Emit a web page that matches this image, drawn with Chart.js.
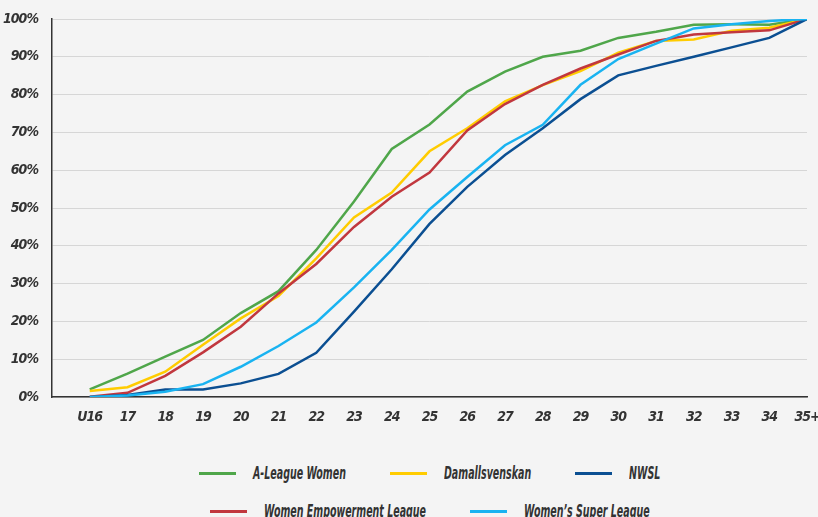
<!DOCTYPE html>
<html>
<head>
<meta charset="utf-8">
<script src="https://cdn.jsdelivr.net/npm/chart.js@4.4.1/dist/chart.umd.min.js"></script>
<style>
  html, body { margin: 0; padding: 0; background: #f4f4f4; }
  #wrap { width: 818px; height: 517px; position: relative; overflow: hidden; }
  #chart-box { width: 818px; height: 440px; position: relative; }
  .legend-row { position: absolute; left: 52px; width: 756px; display: flex; justify-content: center; align-items: center;
    font-family: "DejaVu Sans", sans-serif; font-stretch: condensed;
    font-weight: bold; font-style: italic; font-size: 17px; color: #333; }
  .legend-item { display: flex; align-items: center; margin: 0 22px; }
  .legend-item span.sw { display: inline-block; width: 37px; height: 3px; margin-right: 17px; }
  .legend-item span.txt { display: inline-block; transform: scaleX(0.62); transform-origin: 0 50%; white-space: nowrap; }
</style>
</head>
<body>
<div id="wrap">
  <div id="chart-box"><canvas id="age-curve"></canvas></div>
  <div class="legend-row" id="legend-1" style="top:463px"></div>
  <div class="legend-row" id="legend-2" style="top:501px"></div>
</div>
<script>
// cumulative share of minutes by player age, per league
var ages = ['U16', '17', '18', '19', '20', '21', '22', '23', '24', '25', '26', '27', '28', '29', '30', '31', '32', '33', '34', '35+'];
var yTicks = [0, 10, 20, 30, 40, 50, 60, 70, 80, 90, 100];

var aLeagueWomen   = [2.0, 6.2, 10.7, 15.1, 22.2, 28.0, 38.9, 51.7, 65.6, 72.1, 80.8, 86.1, 90.0, 91.6, 95.0, 96.6, 98.5, 98.6, 98.5, 100];
var damallsvenskan = [1.6, 2.6, 6.7, 13.8, 20.8, 26.7, 36.7, 47.5, 54.1, 65.0, 71.1, 78.2, 82.5, 86.2, 91.1, 94.2, 94.6, 96.9, 97.7, 100];
var nwsl           = [0.0, 0.5, 2.0, 2.0, 3.6, 6.1, 11.7, 22.6, 33.8, 45.8, 55.6, 64.0, 71.1, 78.8, 85.1, 87.6, 90.0, 92.5, 95.0, 100];
var wel            = [0.1, 1.1, 5.6, 11.8, 18.6, 27.4, 35.2, 45.0, 53.0, 59.4, 70.5, 77.5, 82.6, 86.9, 90.6, 94.2, 95.9, 96.5, 97.0, 100];
var wsl            = [0.0, 0.4, 1.4, 3.4, 8.0, 13.5, 19.7, 29.0, 38.9, 49.6, 58.2, 66.6, 72.0, 82.6, 89.4, 93.5, 97.5, 98.6, 99.5, 100];

var leagueNames  = ['A-League Women', 'Damallsvenskan', 'NWSL', 'Women Empowerment League', "Women\u2019s Super League"];
var leagueSeries = [aLeagueWomen, damallsvenskan, nwsl, wel, wsl];
var leagueColors = ['#4fa64a', '#ffcc00', '#0b4f92', '#c1373e', '#19b3f1'];

var FONT = '"DejaVu Sans", sans-serif';
var tickFont = { family: FONT, size: 14, weight: 'bold', style: 'italic' };
var LEGEND_SQUEEZE = 0.62;

// narrow tick lettering: canvas keeps stretch and spacing apart from ctx.font
var narrowText = {
    id: 'narrowText',
    beforeInit: function (chart) { narrowText.apply(chart.ctx); },
    beforeLayout: function (chart) { narrowText.apply(chart.ctx); },
    beforeDraw: function (chart) { narrowText.apply(chart.ctx); },
    apply: function (ctx) {
        if ('fontStretch' in ctx) ctx.fontStretch = 'condensed';
        if ('letterSpacing' in ctx) ctx.letterSpacing = '-1px';
    }
};

// draw order: blue lines underneath, green on top
var drawOrder = [4, 2, 3, 1, 0];
var datasets = drawOrder.map(function (i) {
    return {
        label: leagueNames[i],
        data: leagueSeries[i].map(function (v, k) { return { x: k, y: v }; }),
        borderColor: leagueColors[i],
        backgroundColor: leagueColors[i],
        borderWidth: 2.5,
        pointRadius: 0,
        tension: 0,
        fill: false
    };
});

new Chart(document.getElementById('age-curve'), {
    type: 'line',
    data: { datasets: datasets },
    plugins: [narrowText],
    options: {
        responsive: true,
        maintainAspectRatio: false,
        animation: false,
        layout: { padding: { top: 19, right: 0, left: 0, bottom: 0 } },
        plugins: {
            legend: { display: false },
            tooltip: { enabled: false }
        },
        scales: {
            x: {
                type: 'linear',
                min: -1,
                max: ages.length - 1,
                afterBuildTicks: function (axis) {
                    axis.ticks = ages.map(function (a, k) { return { value: k }; });
                },
                afterFit: function (axis) {
                    axis.height = 43;
                    // let "35+" run up to the canvas edge
                    axis.paddingRight = 11;
                },
                // invisible tick marks keep the labels off the axis without the side padding ticks.padding adds
                grid: { display: false, drawTicks: true, tickLength: 12 },
                border: { display: true, color: '#333', width: 1.5 },
                ticks: {
                    autoSkip: false,
                    maxRotation: 0,
                    padding: 0,
                    color: '#333',
                    font: tickFont,
                    callback: function (v) { return ages[v] !== undefined ? ages[v] : ''; }
                }
            },
            y: {
                min: 0,
                max: 100,
                afterBuildTicks: function (axis) {
                    axis.ticks = yTicks.map(function (t) { return { value: t }; });
                },
                afterFit: function (axis) { axis.width = 52; },
                grid: { color: '#d6d6d6', lineWidth: 1, drawTicks: true, tickLength: 14, tickColor: 'rgba(0,0,0,0)' },
                border: { display: true, color: '#333', width: 1.5 },
                ticks: {
                    padding: 0,
                    color: '#333',
                    font: tickFont,
                    callback: function (v) { return v + '%'; }
                }
            }
        }
    }
});

// legend in two rows centred over the plot; the squeezed label gives back the width it no longer uses
function addLegendItem(rowId, i) {
    var item = document.createElement('div');
    item.className = 'legend-item';
    var sw = document.createElement('span');
    sw.className = 'sw';
    sw.style.background = leagueColors[i];
    var txt = document.createElement('span');
    txt.className = 'txt';
    txt.textContent = leagueNames[i];
    item.appendChild(sw);
    item.appendChild(txt);
    document.getElementById(rowId).appendChild(item);
    txt.style.marginRight = (-txt.offsetWidth * (1 - LEGEND_SQUEEZE)) + 'px';
}
[0, 1, 2].forEach(function (i) { addLegendItem('legend-1', i); });
[3, 4].forEach(function (i) { addLegendItem('legend-2', i); });
</script>
</body>
</html>
